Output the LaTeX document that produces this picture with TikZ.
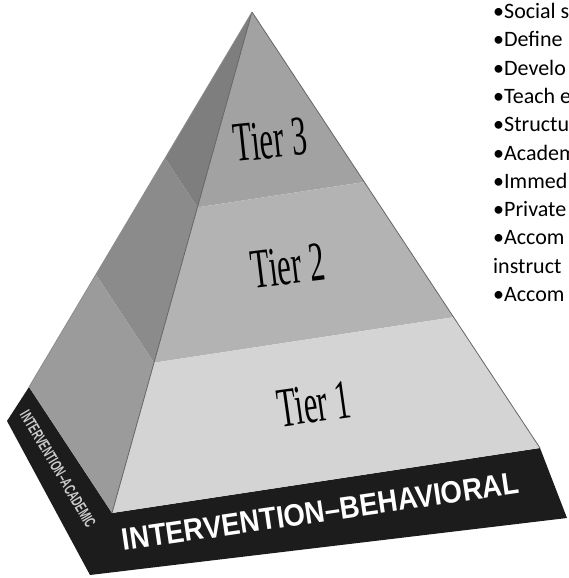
\documentclass[tikz,border=0pt]{standalone}
\usepackage{fontspec}
\setmainfont{Liberation Serif}
\newfontfamily\listfont{Carlito}
\newfontfamily\bandfont{Liberation Sans}
\usetikzlibrary{calc}

\definecolor{tierthree}{HTML}{A2A2A2}
\definecolor{tiertwo}{HTML}{B3B3B3}
\definecolor{tierone}{HTML}{D4D4D4}
\definecolor{sidethree}{HTML}{7E7E7E}
\definecolor{sidetwo}{HTML}{8B8B8B}
\definecolor{sideone}{HTML}{9B9B9B}
\definecolor{bandgray}{HTML}{1C1C1C}

\begin{document}
\begin{tikzpicture}[x=1pt,y=-1pt,
    edge/.style={draw=black!60,line width=0.8pt},
    tierlabel/.style={font=\fontsize{56}{56}\selectfont,inner sep=0pt},
    bandlabel/.style={font=\bandfont\bfseries\fontsize{31}{31}\selectfont,text=white,inner sep=0pt},
    listitem/.style={font=\listfont\fontsize{22}{26}\selectfont,anchor=base west,inner sep=0pt}]

% Fix the page size
\useasboundingbox (0,0) rectangle (568,578);
\clip (0,0) rectangle (568,578);

% Corners of the pyramid
\coordinate (apex) at (252,12);
\coordinate (ridge) at (112,513);
\coordinate (right) at (540,448);
\coordinate (left) at (29,387);

% Tier borders on the edges
\coordinate (r3) at ($(apex)!0.39!(ridge)$);
\coordinate (r2) at ($(apex)!0.70!(ridge)$);
\coordinate (e3) at ($(apex)!0.39!(right)$);
\coordinate (e2) at ($(apex)!0.70!(right)$);
\coordinate (l3) at ($(apex)!0.39!(left)$);
\coordinate (l2) at ($(apex)!0.70!(left)$);

% Outer corners of the base band
\coordinate (bandr) at (567,518);
\coordinate (bandb) at (90,575);
\coordinate (bandl) at (7,421);

% Draw the base band
\fill[bandgray] (left) -- (ridge) -- (right) -- (bandr) -- (bandb) -- (bandl) -- cycle;

% Front face
\fill[tierthree] (apex) -- (e3) -- (r3) -- cycle;
\fill[tiertwo] (r3) -- (e3) -- (e2) -- (r2) -- cycle;
\fill[tierone] (r2) -- (e2) -- (right) -- (ridge) -- cycle;

% Left face
\fill[sidethree] (apex) -- (r3) -- (l3) -- cycle;
\fill[sidetwo] (l3) -- (r3) -- (r2) -- (l2) -- cycle;
\fill[sideone] (l2) -- (r2) -- (ridge) -- (left) -- cycle;

% Edges
\draw[edge] (apex) -- (ridge);
\draw[edge] (apex) -- (right);
\draw[edge,draw=black!45] (apex) -- (left);

% Tier labels
\node[tierlabel,rotate=6] (tier3) at (270,140) {\scalebox{0.55}[1]{Tier 3}};
\node[tierlabel,rotate=7] (tier2) at (288,266) {\scalebox{0.55}[1]{Tier 2}};
\node[tierlabel,rotate=8] (tier1) at (314,404) {\scalebox{0.55}[1]{Tier 1}};

% Band labels
\node[bandlabel,rotate=8.3,anchor=base] (behav) at (322,522) {\scalebox{0.89}[1]{INTERVENTION–BEHAVIORAL}};
\node[bandlabel,font=\bandfont\bfseries\fontsize{16}{16}\selectfont,text=black!20,rotate=-59.4] (acad) at (58,469)
    {\scalebox{0.62}[1]{INTERVENTION–ACADEMIC}};

% List on the right
\node[listitem] (item1) at (493,18.5) {•Social s};
\node[listitem] (item2) at (493,46.8) {•Define};
\node[listitem] (item3) at (493,75.1) {•Develo};
\node[listitem] (item4) at (493,103.4) {•Teach e};
\node[listitem] (item5) at (493,131.7) {•Structu};
\node[listitem] (item6) at (493,160) {•Academ};
\node[listitem] (item7) at (493,188.3) {•Immed};
\node[listitem] (item8) at (493,216.6) {•Private};
\node[listitem] (item9) at (493,244.9) {•Accom};
\node[listitem] (item10) at (493,273.2) {instruct};
\node[listitem] (item11) at (493,301.5) {•Accom};

\end{tikzpicture}
\end{document}
